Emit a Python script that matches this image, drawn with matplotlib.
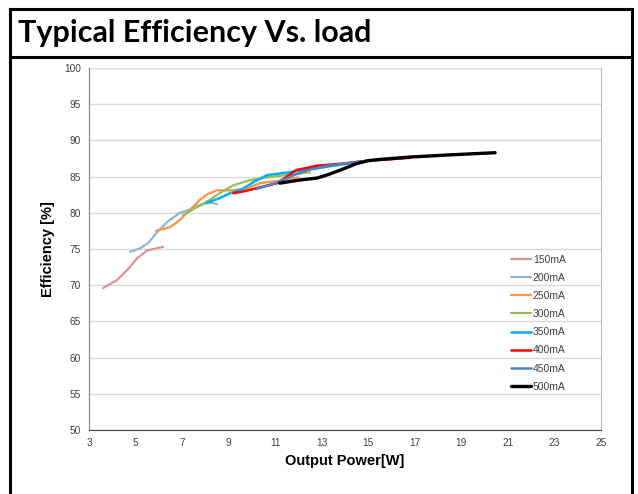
import matplotlib
matplotlib.use("Agg")
import matplotlib.pyplot as plt
from matplotlib.lines import Line2D

plt.rcParams['font.family'] = ['Liberation Sans', 'DejaVu Sans']

labels = ["150mA", "200mA", "250mA", "300mA", "350mA", "400mA", "450mA", "500mA"]
colors = ["#D99694", "#95B3D7", "#F79646", "#9BBB59", "#00B0F0", "#FF0000", "#4F81BD", "#000000"]
widths = [1.6, 1.6, 1.6, 1.6, 1.8, 1.8, 1.8, 2.4]

x150 = [3.6, 4.2, 4.7, 5.06, 5.5, 5.9, 6.18]
y150 = [69.6, 70.7, 72.3, 73.7, 74.8, 75.1, 75.3]
x200 = [4.76, 5.2, 5.54, 5.92, 6.35, 6.9, 7.2, 7.77, 8.2, 8.5]
y200 = [74.6, 75.1, 75.8, 77.3, 78.7, 80.0, 80.3, 81.1, 81.4, 81.2]
x250 = [5.88, 6.48, 6.9, 7.34, 7.77, 8.1, 8.5, 9.2, 9.8, 10.35, 11.1, 12.0]
y250 = [77.5, 78.0, 79.0, 80.4, 81.8, 82.6, 83.1, 83.1, 83.4, 84.1, 84.4, 84.9]
x300 = [7.04, 7.6, 8.2, 8.7, 9.2, 9.9, 10.65, 11.5, 12.5]
y300 = [79.7, 80.7, 81.8, 82.9, 83.8, 84.5, 84.9, 85.2, 85.6]
x350 = [8.07, 8.6, 9.06, 9.6, 10.1, 10.65, 11.6, 12.5, 13.5, 14.6]
y350 = [81.4, 82.0, 82.7, 83.3, 84.3, 85.2, 85.6, 86.0, 86.5, 87.0]
x400 = [9.2, 9.7, 10.2, 11.1, 11.5, 11.9, 12.8, 13.9, 15.0, 16.0, 16.8]
y400 = [82.7, 83.0, 83.4, 84.1, 85.0, 85.9, 86.5, 86.8, 87.2, 87.4, 87.6]
x450 = [10.2, 11.1, 11.8, 12.5, 13.3, 14.2, 15.5]
y450 = [83.3, 84.2, 85.2, 86.0, 86.5, 86.9, 87.4]
x500 = [11.2, 12.0, 12.8, 13.3, 13.8, 14.5, 15.0, 15.6, 16.8, 18.5, 20.45]
y500 = [84.1, 84.5, 84.8, 85.3, 85.9, 86.8, 87.2, 87.4, 87.7, 88.0, 88.3]

xs = [x150, x200, x250, x300, x350, x400, x450, x500]
ys = [y150, y200, y250, y300, y350, y400, y450, y500]

xticks = list(range(3, 26, 2))
yticks = list(range(50, 101, 5))

fig = plt.figure(figsize=(6.38, 4.94), dpi=100)
ax = fig.add_axes([89/638, 1 - 430/494, (601-89)/638, (430-68)/494])

for x, y, c, w, l in zip(xs, ys, colors, widths, labels):
    ax.plot(x, y, color=c, lw=w, label=l, solid_capstyle='round', solid_joinstyle='round')

ax.set_xlim(3, 25)
ax.set_ylim(50, 100)
ax.set_xticks(xticks)
ax.set_yticks(yticks)
ax.tick_params(axis='both', length=0, labelsize=7.3, colors='#404040', pad=6)
ax.yaxis.grid(True, color='#D9D9D9', lw=1)
ax.set_axisbelow(True)
ax.spines['top'].set_visible(False)
ax.spines['right'].set_color('#BFBFBF')
ax.spines['left'].set_color('#808080')
ax.spines['bottom'].set_color('#404040')
ax.set_xlabel("Output Power[W]", fontsize=10.5, fontweight='bold', labelpad=4)
ax.set_ylabel("Efficiency [%]", fontsize=10.5, fontweight='bold', labelpad=6)

leg = ax.legend(loc='upper left', bbox_to_anchor=(0.805, 0.51), frameon=False, fontsize=7.5,
                handlelength=2.0, handletextpad=0.15, labelspacing=0.78)
for t in leg.get_texts():
    t.set_color('#404040')

# title band and borders
fig.text(18/638, 1 - 33/494, "Typical Efficiency Vs. load", fontsize=22, fontweight='bold',
         family=['Lato', 'DejaVu Sans'], va='center', ha='left')
lw = 2.2
fig.add_artist(Line2D([10/638, 10/638], [0, 1 - 9/494], color='black', lw=lw, transform=fig.transFigure))
fig.add_artist(Line2D([632/638, 632/638], [0, 1 - 9/494], color='black', lw=lw, transform=fig.transFigure))
fig.add_artist(Line2D([10/638, 632/638], [1 - 9/494, 1 - 9/494], color='black', lw=lw, transform=fig.transFigure))
fig.add_artist(Line2D([10/638, 632/638], [1 - 57/494, 1 - 57/494], color='black', lw=lw, transform=fig.transFigure))

fig.savefig("out.png", dpi=100)
